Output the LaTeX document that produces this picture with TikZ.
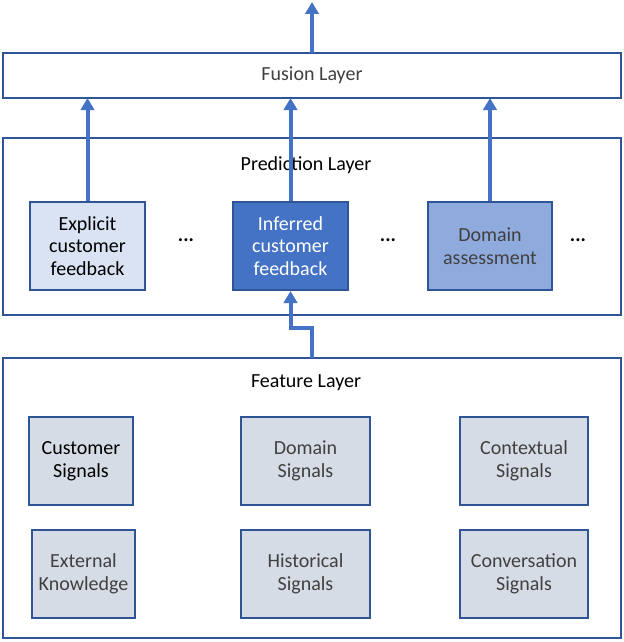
\documentclass[tikz,border=0pt]{standalone}
\usepackage{fontspec}
\setmainfont{Carlito}
\usepackage{tikz}
\usetikzlibrary{arrows.meta}

\definecolor{edgeblue}{HTML}{2F5597}
\definecolor{arrowblue}{HTML}{4472C4}
\definecolor{paleblue}{HTML}{DAE3F3}
\definecolor{midblue}{HTML}{8FAADC}
\definecolor{greyblue}{HTML}{D6DCE5}
\definecolor{txtgrey}{HTML}{404040}

\tikzset{
  layer/.style={draw=edgeblue, line width=1.5pt, fill=white},
  txt/.style={font=\fontsize{15}{17}\selectfont},
  box/.style={draw=edgeblue, line width=1.5pt, align=center, inner sep=1pt, txt, text=txtgrey},
  flow/.style={draw=arrowblue, line width=3pt, -{Triangle[length=9pt,width=10pt]}}
}

\begin{document}
\begin{tikzpicture}[x=0.75pt, y=-0.75pt]
            \useasboundingbox (0,0) rectangle (624,642);

            % layers
            \draw[layer] (3,53) rectangle (621,98);
            \draw[layer] (3,138) rectangle (621,315);
            \draw[layer] (3,358) rectangle (621,638);
            \node[txt, text=txtgrey] (fusion) at (312,75) {Fusion Layer};
            \node[txt, text=black] (predict) at (306,165) {Prediction Layer};
            \node[txt, text=black] (feature) at (306,383) {Feature Layer};
            \coordinate (fusiontop) at (312,53);
            \coordinate (fusionbot) at (312,98);
            \coordinate (featuretop) at (312,358);
            \coordinate (out) at (312,2);

            % prediction boxes
            \node[box, fill=paleblue, text=black, minimum width=86pt, minimum height=66pt] (explicit) at (87.5,246) {Explicit\\customer\\feedback};
            \node[box, fill=arrowblue, text=white, minimum width=86pt, minimum height=66pt] (inferred) at (290.5,246) {Inferred\\customer\\feedback};
            \node[box, fill=midblue, minimum width=93pt, minimum height=66pt] (domassess) at (490,246) {Domain\\assessment};
            \node[txt] at (186,240) {\textbf{...}};
            \node[txt] at (388,240) {\textbf{...}};
            \node[txt] at (578,240) {\textbf{...}};

            % feature boxes
            \node[box, fill=greyblue, text=black, minimum width=78pt, minimum height=66pt] (custsig) at (81,461) {Customer\\Signals};
            \node[box, fill=greyblue, minimum width=97pt, minimum height=66pt] (domsig) at (305.5,461) {Domain\\Signals};
            \node[box, fill=greyblue, minimum width=96pt, minimum height=66pt] (ctxsig) at (524,461) {Contextual\\Signals};
            \node[box, fill=greyblue, minimum width=77pt, minimum height=66pt] (extsig) at (83.5,574) {External\\Knowledge};
            \node[box, fill=greyblue, minimum width=97pt, minimum height=66pt] (histsig) at (305.5,574) {Historical\\Signals};
            \node[box, fill=greyblue, minimum width=96pt, minimum height=66pt] (convsig) at (524,574) {Conversation\\Signals};

            % arrows
            \draw[flow] (fusiontop) -- (out);
            \draw[flow] (explicit.north) -- (explicit.north |- fusionbot);
            \draw[flow] (inferred.north) -- (inferred.north |- fusionbot);
            \draw[flow] (domassess.north) -- (domassess.north |- fusionbot);
            \draw[flow] (featuretop) -- ++(0,-30) -| (inferred.south);

\end{tikzpicture}
\end{document}
